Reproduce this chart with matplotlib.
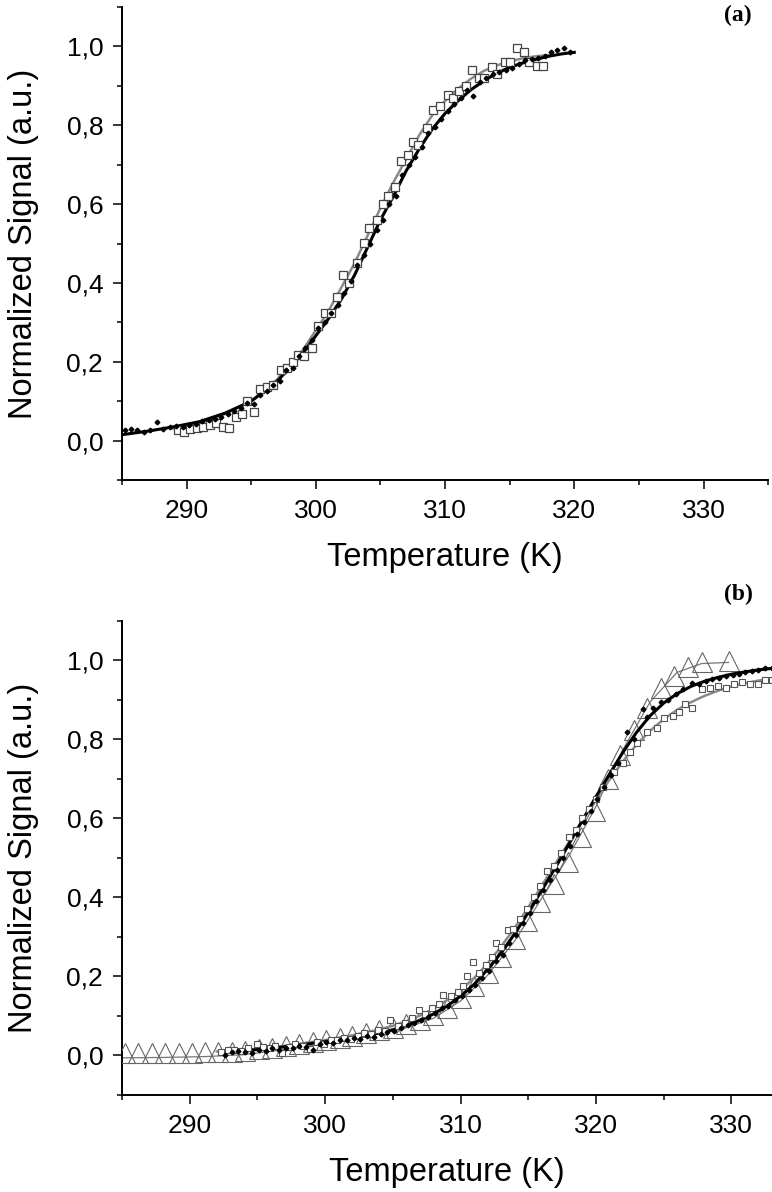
import numpy as np
import matplotlib
matplotlib.use("Agg")
import matplotlib.pyplot as plt
from matplotlib.ticker import MultipleLocator, FuncFormatter

plt.rcParams['font.family'] = ['Liberation Sans', 'DejaVu Sans']

# ---------------- panel (a) ----------------
# black dots + black fit
a_dot_T = [285.2, 285.7, 286.2, 286.7, 287.2, 287.7, 288.2, 288.7, 289.2, 289.7,
           290.2, 290.7, 291.2, 291.7, 292.2, 292.7, 293.2, 293.7, 294.2, 294.7,
           295.2, 295.7, 296.2, 296.7, 297.2, 297.7, 298.2, 298.7, 299.2, 299.7,
           300.2, 300.7, 301.2, 301.7, 302.2, 302.7, 303.2, 303.7, 304.2, 304.7,
           305.2, 305.7, 306.2, 306.7, 307.2, 307.7, 308.2, 308.7, 309.2, 309.7,
           310.2, 310.7, 311.2, 311.7, 312.2, 312.7, 313.2, 313.7, 314.2, 314.7,
           315.2, 315.7, 316.2, 316.7, 317.2, 317.7, 318.2, 318.7, 319.2, 319.7]
a_dot_v = [0.028, 0.030, 0.028, 0.022, 0.027, 0.047, 0.030, 0.035, 0.038, 0.035,
           0.040, 0.042, 0.050, 0.052, 0.055, 0.060, 0.068, 0.075, 0.083, 0.095,
           0.092, 0.115, 0.125, 0.140, 0.150, 0.178, 0.185, 0.215, 0.235, 0.255,
           0.285, 0.300, 0.325, 0.345, 0.375, 0.405, 0.445, 0.470, 0.500, 0.535,
           0.560, 0.600, 0.620, 0.675, 0.700, 0.720, 0.745, 0.780, 0.795, 0.815,
           0.835, 0.855, 0.870, 0.890, 0.875, 0.910, 0.920, 0.930, 0.935, 0.940,
           0.945, 0.955, 0.965, 0.968, 0.970, 0.975, 0.987, 0.990, 0.995, 0.985]
a_fitk_T = [285, 287, 289, 291, 293, 295, 297, 299, 301, 302, 303, 304, 305, 306,
            307, 308, 309, 310, 311, 312, 313, 314, 315, 316, 317, 318, 319, 320]
a_fitk_v = [0.015, 0.024, 0.035, 0.048, 0.070, 0.100, 0.150, 0.222, 0.310, 0.360,
            0.420, 0.490, 0.560, 0.620, 0.685, 0.740, 0.790, 0.830, 0.862, 0.890,
            0.913, 0.932, 0.947, 0.958, 0.967, 0.975, 0.981, 0.985]

# open squares + grey fit
a_sq_T = [289.3, 289.8, 290.3, 290.8, 291.3, 291.8, 292.3, 292.8, 293.3, 293.8,
          294.3, 294.7, 295.2, 295.7, 296.2, 296.7, 297.3, 297.8, 298.2, 298.6,
          299.1, 299.7, 300.2, 300.7, 301.2, 301.6, 302.1, 302.6, 303.2, 303.7,
          304.1, 304.7, 305.2, 305.6, 306.1, 306.6, 307.1, 307.5, 307.9, 308.6,
          309.1, 309.6, 310.2, 310.6, 311.1, 311.6, 312.1, 312.6, 313.0, 313.6,
          314.0, 314.6, 315.0, 315.6, 316.1, 316.5, 317.1, 317.6]
a_sq_v = [0.028, 0.021, 0.030, 0.033, 0.035, 0.040, 0.045, 0.034, 0.032, 0.060,
          0.068, 0.100, 0.072, 0.130, 0.137, 0.140, 0.178, 0.185, 0.200, 0.218,
          0.215, 0.235, 0.290, 0.325, 0.325, 0.364, 0.420, 0.400, 0.450, 0.502,
          0.540, 0.560, 0.600, 0.620, 0.644, 0.710, 0.724, 0.758, 0.750, 0.794,
          0.840, 0.850, 0.876, 0.870, 0.887, 0.900, 0.940, 0.920, 0.920, 0.948,
          0.930, 0.960, 0.960, 0.997, 0.987, 0.960, 0.950, 0.950]
a_fitg_T = [289, 291, 293, 295, 297, 299, 300, 301, 302, 303, 304, 305, 306, 307,
            308, 309, 310, 311, 312, 313, 314, 315, 316, 317, 318]
a_fitg_v = [0.030, 0.045, 0.068, 0.100, 0.155, 0.230, 0.280, 0.330, 0.390, 0.450,
            0.520, 0.590, 0.655, 0.715, 0.775, 0.825, 0.862, 0.893, 0.918, 0.938,
            0.952, 0.962, 0.970, 0.975, 0.978]

# ---------------- panel (b) ----------------
b_dot_T = [292.6, 293.1, 293.6, 294.1, 294.6, 295.1, 295.6, 296.1, 296.6, 297.1,
           297.6, 298.1, 298.6, 299.1, 299.6, 300.1, 300.6, 301.1, 301.6, 302.1,
           302.6, 303.1, 303.6, 304.1, 304.6, 305.1, 305.6, 306.1, 306.6, 307.1,
           307.6, 308.1, 308.6, 309.1, 309.6, 310.1, 310.6, 311.1, 311.6, 312.1,
           312.6, 313.1, 313.6, 314.1, 314.6, 315.1, 315.6, 316.1, 316.6, 317.1,
           317.6, 318.1, 318.6, 319.1, 319.6, 320.1, 320.6, 321.1, 321.6, 322.3,
           322.8, 323.5, 323.8, 324.2, 324.8, 325.3, 325.9, 326.4, 327.1, 327.6,
           328.1, 328.6, 329.1, 329.6, 330.1, 330.6, 331.0, 331.5, 332.0, 332.5,
           333.0]
b_dot_v = [0.000, 0.010, 0.012, 0.008, 0.005, 0.015, 0.012, 0.018, 0.015, 0.020,
           0.018, 0.025, 0.022, 0.015, 0.030, 0.035, 0.032, 0.040, 0.038, 0.045,
           0.042, 0.050, 0.048, 0.055, 0.060, 0.062, 0.070, 0.078, 0.082, 0.090,
           0.098, 0.108, 0.120, 0.125, 0.140, 0.150, 0.165, 0.178, 0.195, 0.215,
           0.240, 0.255, 0.285, 0.305, 0.335, 0.360, 0.390, 0.420, 0.445, 0.470,
           0.500, 0.530, 0.560, 0.590, 0.620, 0.650, 0.680, 0.710, 0.740, 0.820,
           0.800, 0.878, 0.857, 0.880, 0.895, 0.900, 0.915, 0.928, 0.944, 0.940,
           0.948, 0.952, 0.955, 0.960, 0.962, 0.965, 0.970, 0.972, 0.975, 0.980,
           0.982]
b_fitk_T = [292.5, 294, 296, 298, 300, 302, 304, 305, 306, 307, 308, 309, 310, 311,
            312, 313, 314, 315, 316, 317, 318, 319, 320, 321, 322, 323, 324, 325,
            326, 327, 328, 329, 330, 331, 332, 333]
b_fitk_v = [0.008, 0.012, 0.018, 0.026, 0.035, 0.045, 0.057, 0.065, 0.076, 0.089,
            0.105, 0.125, 0.150, 0.180, 0.218, 0.260, 0.308, 0.362, 0.418, 0.475,
            0.535, 0.595, 0.655, 0.712, 0.768, 0.818, 0.860, 0.892, 0.916, 0.934,
            0.947, 0.957, 0.965, 0.971, 0.976, 0.980]

b_sq_T = [292.3, 292.8, 293.3, 293.8, 294.3, 295.0, 295.4, 295.9, 296.3, 296.8,
          297.3, 297.8, 298.4, 298.9, 299.4, 299.9, 300.4, 300.9, 301.4, 301.9,
          302.4, 302.9, 303.4, 303.9, 304.4, 304.8, 305.4, 305.9, 306.4, 306.9,
          307.4, 307.9, 308.4, 308.7, 309.3, 309.8, 310.2, 310.5, 310.9, 311.4,
          311.9, 312.3, 312.6, 313.0, 313.5, 313.9, 314.4, 314.9, 315.4, 315.9,
          316.4, 316.9, 317.4, 318.0, 318.5, 319.0, 319.5, 320.0, 320.5, 321.3,
          322.0, 322.5, 323.0, 323.8, 324.5, 325.0, 325.7, 326.1, 326.6, 327.1,
          327.8, 328.4, 329.0, 329.6, 330.2, 330.8, 331.4, 332.0, 332.5, 333.0]
b_sq_v = [0.010, 0.013, 0.015, 0.012, 0.020, 0.030, 0.022, 0.018, 0.025, 0.006,
          0.022, 0.028, 0.025, 0.017, 0.035, 0.030, 0.038, 0.040, 0.045, 0.042,
          0.050, 0.058, 0.055, 0.065, 0.062, 0.089, 0.075, 0.082, 0.095, 0.114,
          0.105, 0.120, 0.130, 0.154, 0.150, 0.160, 0.175, 0.200, 0.236, 0.210,
          0.228, 0.250, 0.284, 0.275, 0.318, 0.320, 0.345, 0.370, 0.400, 0.430,
          0.468, 0.480, 0.512, 0.554, 0.570, 0.600, 0.625, 0.650, 0.680, 0.717,
          0.740, 0.768, 0.790, 0.820, 0.830, 0.853, 0.860, 0.870, 0.890, 0.880,
          0.928, 0.930, 0.935, 0.930, 0.940, 0.945, 0.940, 0.940, 0.950, 0.950]
b_fitg_T = [292, 294, 296, 298, 300, 302, 304, 305, 306, 307, 308, 309, 310, 311,
            312, 313, 314, 315, 316, 317, 318, 319, 320, 321, 322, 323, 324, 325,
            326, 327, 328, 329, 330, 331, 332, 333]
b_fitg_v = [0.010, 0.014, 0.020, 0.029, 0.039, 0.051, 0.066, 0.075, 0.087, 0.101,
            0.118, 0.140, 0.166, 0.196, 0.233, 0.276, 0.323, 0.375, 0.430, 0.485,
            0.540, 0.595, 0.648, 0.698, 0.745, 0.787, 0.822, 0.851, 0.875, 0.894,
            0.910, 0.923, 0.934, 0.942, 0.949, 0.954]

b_tri_T = [285.2, 286.2, 287.2, 288.2, 289.2, 290.2, 291.1, 292.1, 293.1, 294.1,
           295.1, 296.1, 297.1, 298.1, 299.1, 300.1, 301.1, 302.0, 303.0, 304.0,
           305.0, 306.0, 307.0, 308.0, 309.0, 310.0, 311.0, 312.0, 313.0, 314.0,
           314.9, 315.9, 316.9, 317.9, 318.9, 319.9, 320.9, 321.8, 322.8, 323.8,
           324.8, 325.8, 326.8, 327.8, 329.8]
b_tri_v = [0.006, 0.006, 0.006, 0.006, 0.007, 0.007, 0.008, 0.008, 0.010, 0.012,
           0.017, 0.020, 0.025, 0.030, 0.035, 0.040, 0.045, 0.050, 0.057, 0.065,
           0.070, 0.080, 0.090, 0.102, 0.120, 0.145, 0.175, 0.210, 0.248, 0.295,
           0.340, 0.388, 0.435, 0.490, 0.553, 0.620, 0.700, 0.760, 0.825, 0.880,
           0.930, 0.960, 0.983, 0.996, 0.999]
b_trifit_T = [285.0, 288, 291, 294, 297, 300, 303, 306, 308, 310, 312, 314, 316,
              318, 320, 322, 324, 326, 327.8, 329.8]
b_trifit_v = [-0.006, -0.005, -0.003, 0.002, 0.015, 0.030, 0.047, 0.070, 0.094,
              0.138, 0.203, 0.290, 0.398, 0.505, 0.630, 0.775, 0.895, 0.970,
              0.992, 0.995]

comma = FuncFormatter(lambda v, p: ("%.1f" % v).replace(".", ","))

fig = plt.figure(figsize=(7.72, 11.92), dpi=100)
ax_a = fig.add_axes([0.158, 0.5973, 0.837, 0.3968])
ax_b = fig.add_axes([0.158, 0.0814, 0.842, 0.3977])

ax_a.plot(a_fitg_T, a_fitg_v, color='#8a8a8a', lw=1.8, zorder=2)
ax_a.plot(a_fitk_T, a_fitk_v, color='black', lw=2.2, zorder=3)
ax_a.plot(a_sq_T, a_sq_v, 's', ms=5.5, mfc='white', mec='#444444', mew=0.9, zorder=4)
ax_a.plot(a_dot_T, a_dot_v, 'D', ms=2.4, color='black', zorder=5)

ax_b.plot(b_trifit_T, b_trifit_v, color='#777777', lw=0.9, zorder=2)
ax_b.plot(b_tri_T, b_tri_v, '^', ms=15, mfc='none', mec='#666666', mew=0.8, zorder=3)
ax_b.plot(b_fitg_T, b_fitg_v, color='#8a8a8a', lw=1.8, zorder=3)
ax_b.plot(b_fitk_T, b_fitk_v, color='black', lw=2.2, zorder=4)
ax_b.plot(b_sq_T, b_sq_v, 's', ms=4.5, mfc='white', mec='#555555', mew=0.8, zorder=5)
ax_b.plot(b_dot_T, b_dot_v, 'D', ms=2.4, color='black', zorder=6)

for ax, xmax in [(ax_a, 335), (ax_b, 333)]:
    ax.set_xlim(285, xmax)
    ax.set_ylim(-0.1, 1.1)
    for s in ['top', 'right']:
        ax.spines[s].set_visible(False)
    for s in ['left', 'bottom']:
        ax.spines[s].set_linewidth(1.4)
    ax.xaxis.set_major_locator(MultipleLocator(10))
    ax.xaxis.set_minor_locator(MultipleLocator(5))
    ax.yaxis.set_major_locator(MultipleLocator(0.2))
    ax.yaxis.set_minor_locator(MultipleLocator(0.1))
    ax.yaxis.set_major_formatter(comma)
    ax.tick_params(which='major', direction='out', length=6.5, width=1.1,
                   labelsize=19, pad=7)
    ax.tick_params(which='minor', direction='out', length=3.8, width=1.1)
    ax.set_xlabel('Temperature (K)', fontsize=23.5, labelpad=14)
    ax.set_ylabel('Normalized Signal (a.u.)', fontsize=23.5, labelpad=12)
    ax.yaxis.set_label_coords(-0.128, 0.5)

fig.text(0.956, 0.987, '(a)', fontsize=17, fontweight='bold',
         family='Liberation Serif', ha='center', va='center')
fig.text(0.956, 0.501, '(b)', fontsize=17, fontweight='bold',
         family='Liberation Serif', ha='center', va='center')

fig.savefig('out.png', dpi=100)
